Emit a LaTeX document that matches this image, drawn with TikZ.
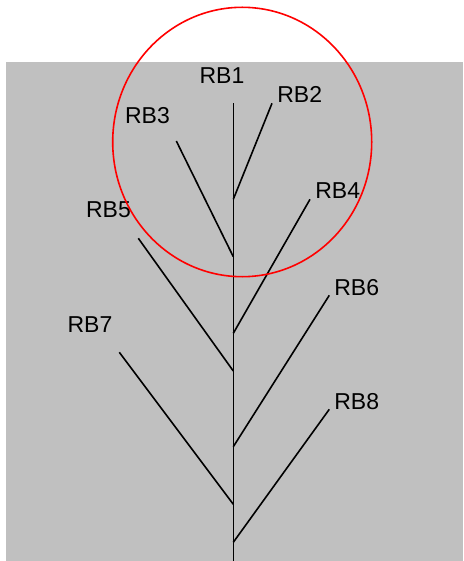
\documentclass[tikz,border=0pt]{standalone}
\usepackage{fontspec}
\setmainfont{Liberation Sans}
\definecolor{bggray}{RGB}{192,192,192}
\tikzset{
    branch/.style = {line width=1.6pt, black},
    rblabel/.style = {anchor=base, inner sep=0pt, font=\fontsize{23}{27}\selectfont}
}

\begin{document}
\begin{tikzpicture}[x=1pt, y=-1pt]
    \useasboundingbox (0,0) rectangle (463,561);
    \fill[bggray] (6,62) rectangle (463,561);
    % stem
    \coordinate (top) at (233.3,103.3);
    \coordinate (bot) at (233.3,561);
    \coordinate (j2) at (233.3,199.3);
    \coordinate (j3) at (233.3,256.7);
    \coordinate (j4) at (233.3,333.3);
    \coordinate (j5) at (233.3,371);
    \coordinate (j6) at (233.3,446.7);
    \coordinate (j7) at (233.3,504.3);
    \coordinate (j8) at (233.3,542.3);
    % branch tips
    \coordinate (t2) at (272,103.3);
    \coordinate (t3) at (176.3,141);
    \coordinate (t4) at (310,199.3);
    \coordinate (t5) at (138.3,238.3);
    \coordinate (t6) at (329.3,295.3);
    \coordinate (t7) at (119.3,352.3);
    \coordinate (t8) at (329.3,409.3);
    % labels
    \node[rblabel] (rb1) at (222,84) {RB1};
    \node[rblabel] (rb2) at (299.7,102.7) {RB2};
    \node[rblabel] (rb3) at (147.5,123.3) {RB3};
    \node[rblabel] (rb4) at (337.7,198.3) {RB4};
    \node[rblabel] (rb5) at (108.5,217.7) {RB5};
    \node[rblabel] (rb6) at (356.7,295) {RB6};
    \node[rblabel] (rb7) at (90,332.3) {RB7};
    \node[rblabel] (rb8) at (356.7,409) {RB8};
    \draw[branch] (top) -- (bot);
    \foreach \i in {2,...,8}
        \draw[branch] (j\i) -- (t\i);
    \draw[red, line width=1.6pt] (242.2,142) ellipse (129.5 and 134.7);
\end{tikzpicture}
\end{document}
